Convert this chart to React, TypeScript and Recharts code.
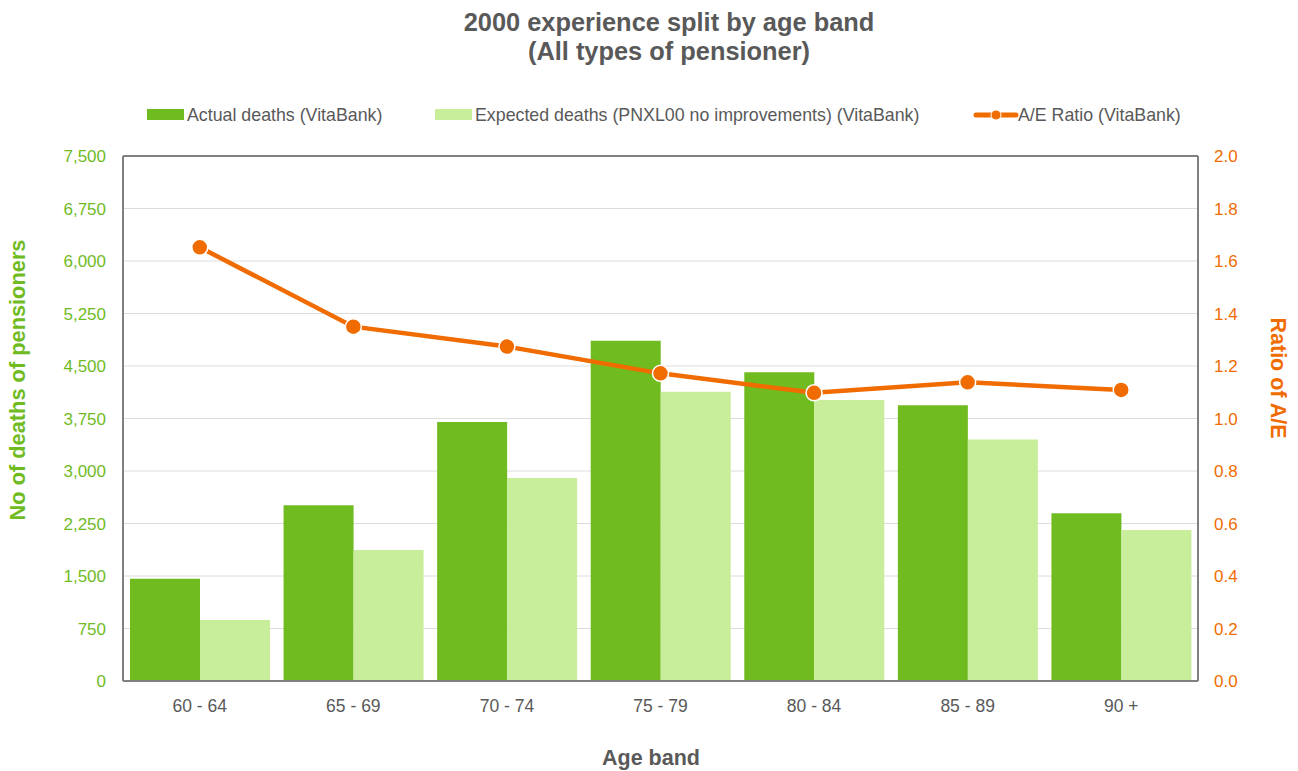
import React from 'react';
import {
  ComposedChart,
  Bar,
  Line,
  XAxis,
  YAxis,
  CartesianGrid,
  ReferenceLine,
  Customized,
} from 'recharts';

// Age bands and the 2000 experience figures per band
const ageBands = ['60 - 64', '65 - 69', '70 - 74', '75 - 79', '80 - 84', '85 - 89', '90 +'];
const actualDeaths = [1460, 2510, 3700, 4860, 4410, 3940, 2395];
const expectedDeaths = [872, 1871, 2900, 4133, 4014, 3450, 2157];
const aeRatio = [1.652, 1.35, 1.274, 1.172, 1.098, 1.138, 1.109];

const leftTicks = [0, 750, 1500, 2250, 3000, 3750, 4500, 5250, 6000, 6750, 7500];
const rightTicks = [0, 0.2, 0.4, 0.6, 0.8, 1.0, 1.2, 1.4, 1.6, 1.8, 2.0];

const seriesNames = {
  actual: 'Actual deaths (VitaBank)',
  expected: 'Expected deaths (PNXL00 no improvements) (VitaBank)',
  ratio: 'A/E Ratio (VitaBank)',
};

const GREEN = '#70bb1f';
const LIGHT_GREEN = '#c8ee9c';
const ORANGE = '#f06c00';
const TEXT = '#595959';
const FONT = '"Liberation Sans", Arial, sans-serif';

const data = ageBands.map((band, i) => ({
  band,
  actual: actualDeaths[i],
  expected: expectedDeaths[i],
  ratio: aeRatio[i],
}));

const W = 1298;
const H = 771;

// Titles, axis captions and the legend row
const Decorations = () => (
  <g fontFamily={FONT}>
    <text x={669} y={31} textAnchor="middle" fontSize={25.4} fontWeight="bold" fill={TEXT}>
      2000 experience split by age band
    </text>
    <text x={669} y={60} textAnchor="middle" fontSize={25.4} fontWeight="bold" fill={TEXT}>
      (All types of pensioner)
    </text>

    <rect x={147} y={109} width={37} height={11} fill={GREEN} />
    <text x={187} y={121} fontSize={17.8} fill={TEXT}>{seriesNames.actual}</text>

    <rect x={435} y={109} width={37} height={11} fill={LIGHT_GREEN} />
    <text x={475} y={121} fontSize={17.8} fill={TEXT}>{seriesNames.expected}</text>

    <line x1={976} y1={115} x2={1016} y2={115} stroke={ORANGE} strokeWidth={5} strokeLinecap="round" />
    <circle cx={996} cy={115} r={5} fill={ORANGE} stroke="#fff" strokeWidth={1} />
    <text x={1018} y={121} fontSize={17.8} fill={TEXT}>{seriesNames.ratio}</text>

    <text
      transform="translate(25 380) rotate(-90)"
      textAnchor="middle"
      fontSize={21.8}
      fontWeight="bold"
      fill={GREEN}
    >
      No of deaths of pensioners
    </text>
    <text
      transform="translate(1271 378) rotate(90)"
      textAnchor="middle"
      fontSize={21.5}
      fontWeight="bold"
      fill={ORANGE}
    >
      Ratio of A/E
    </text>
    <text x={651} y={765} textAnchor="middle" fontSize={21.5} fontWeight="bold" fill={TEXT}>
      Age band
    </text>
  </g>
);

export default function App() {
  return (
    <div style={{ width: W, height: H, background: '#fff' }}>
      <style>{'body{margin:0;}'}</style>
      <ComposedChart
        width={W}
        height={H}
        data={data}
        margin={{ top: 156, right: 40, bottom: 50, left: 63 }}
        barGap={0}
        style={{ fontFamily: FONT }}
      >
        <CartesianGrid horizontal vertical={false} stroke="#dcdcdc" strokeWidth={1} yAxisId="left" />
        <XAxis
          dataKey="band"
          height={40}
          axisLine={{ stroke: '#808080', strokeWidth: 2 }}
          tickLine={false}
          tickSize={0}
          tickMargin={19}
          tick={{ fill: TEXT, fontSize: 17.5 }}
          interval={0}
        />
        <YAxis
          yAxisId="left"
          orientation="left"
          width={60}
          domain={[0, 7500]}
          ticks={leftTicks}
          axisLine={{ stroke: '#808080', strokeWidth: 2 }}
          tickLine={false}
          tickSize={0}
          tickMargin={17}
          tick={{ fill: GREEN, fontSize: 17 }}
          tickFormatter={(v: number) => v.toLocaleString('en-US')}
        />
        <YAxis
          yAxisId="right"
          orientation="right"
          width={60}
          domain={[0, 2]}
          ticks={rightTicks}
          axisLine={{ stroke: '#808080', strokeWidth: 2 }}
          tickLine={false}
          tickSize={0}
          tickMargin={16}
          tick={{ fill: ORANGE, fontSize: 17, textAnchor: 'start' }}
          tickFormatter={(v: number) => v.toFixed(1)}
        />
        <ReferenceLine yAxisId="left" y={7500} stroke="#808080" strokeWidth={2} />
        <Bar
          yAxisId="left"
          dataKey="actual"
          name={seriesNames.actual}
          fill={GREEN}
          barSize={70}
          isAnimationActive={false}
        />
        <Bar
          yAxisId="left"
          dataKey="expected"
          name={seriesNames.expected}
          fill={LIGHT_GREEN}
          barSize={70}
          isAnimationActive={false}
        />
        <Line
          yAxisId="right"
          dataKey="ratio"
          name={seriesNames.ratio}
          type="linear"
          stroke={ORANGE}
          strokeWidth={4.5}
          dot={{ r: 8, fill: ORANGE, stroke: '#fff', strokeWidth: 1.5 }}
          activeDot={false}
          isAnimationActive={false}
        />
        <Customized component={Decorations} />
      </ComposedChart>
    </div>
  );
}
